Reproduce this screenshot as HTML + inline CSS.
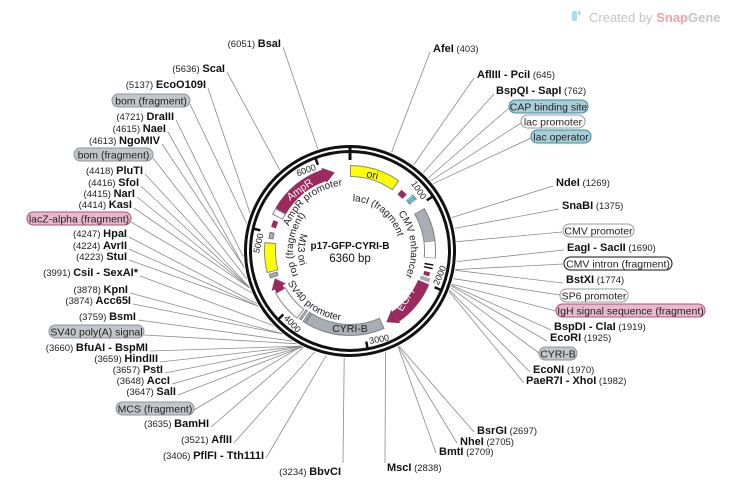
<!DOCTYPE html>
<html><head><meta charset="utf-8"><style>
html,body{margin:0;padding:0;background:#fff;}
svg{display:block;font-family:"Liberation Sans",sans-serif;}
.b{font-weight:bold;font-size:11px;fill:#111;}
.n{font-size:9.5px;fill:#222;}
.p{font-size:10.5px;fill:#222;}
.t{font-size:9px;fill:#222;}
.in{font-size:10px;fill:#222;}
.l{stroke:#8a8a8a;stroke-width:0.8;fill:none;}
</style></head><body>
<svg width="732" height="487" viewBox="0 0 732 487" xmlns="http://www.w3.org/2000/svg">
<rect width="732" height="487" fill="#fff"/>
<rect x="572" y="11" width="5" height="10" rx="1.5" fill="#9fe0ea"/>
<rect x="578" y="11" width="2.5" height="4" fill="#9fe0ea"/>
<text x="589" y="22" font-size="13" fill="#c4c4c4">Created by <tspan fill="#f3a1a6" font-weight="bold">Snap</tspan><tspan fill="#c4c4c4" font-weight="bold">Gene</tspan></text>

<g class="l">
<line x1="283" y1="47" x2="317.8" y2="148.9"/>
<line x1="227" y1="72" x2="279.8" y2="170.2"/>
<line x1="208" y1="88" x2="250" y2="213"/>
<line x1="190" y1="104" x2="246.6" y2="223.3"/>
<line x1="176" y1="120" x2="243.1" y2="256.4"/>
<line x1="168" y1="132" x2="244.3" y2="267.4"/>
<line x1="162" y1="144" x2="244.4" y2="267.6"/>
<line x1="153" y1="158" x2="246.6" y2="278.7"/>
<line x1="145" y1="174" x2="249.4" y2="287.4"/>
<line x1="141" y1="186" x2="249.5" y2="287.6"/>
<line x1="137" y1="197" x2="249.6" y2="287.8"/>
<line x1="134" y1="208" x2="249.6" y2="287.9"/>
<line x1="131" y1="222" x2="251.5" y2="292.8"/>
<line x1="129" y1="237" x2="257" y2="303.8"/>
<line x1="129" y1="249" x2="258.2" y2="306"/>
<line x1="129" y1="260" x2="258.3" y2="306.1"/>
<line x1="140" y1="276" x2="273.2" y2="325.5"/>
<line x1="130" y1="293" x2="282" y2="333.6"/>
<line x1="133" y1="304" x2="282.2" y2="333.8"/>
<line x1="138" y1="320" x2="292" y2="341"/>
<line x1="144" y1="335" x2="296.5" y2="343.7"/>
<line x1="150" y1="351" x2="301.1" y2="346.1"/>
<line x1="160" y1="362" x2="301.2" y2="346.2"/>
<line x1="165" y1="373" x2="301.4" y2="346.3"/>
<line x1="172" y1="384" x2="302.3" y2="346.8"/>
<line x1="178" y1="395" x2="302.4" y2="346.9"/>
<line x1="194" y1="410" x2="301.4" y2="346.3"/>
<line x1="211" y1="427" x2="303.4" y2="347.3"/>
<line x1="234" y1="443" x2="314.6" y2="352"/>
<line x1="266" y1="458" x2="326.3" y2="355.3"/>
<line x1="343" y1="463" x2="344.2" y2="357.8"/>
<line x1="430" y1="52" x2="391.5" y2="152.4"/>
<line x1="474" y1="78" x2="413.6" y2="165"/>
<line x1="494" y1="94" x2="423.1" y2="172.9"/>
<line x1="509" y1="108" x2="428.3" y2="178"/>
<line x1="521" y1="123" x2="430.8" y2="180.8"/>
<line x1="531" y1="138" x2="433.2" y2="183.7"/>
<line x1="553" y1="186" x2="451.6" y2="217.6"/>
<line x1="559" y1="209" x2="454.6" y2="228.4"/>
<line x1="562" y1="232" x2="456.6" y2="241.7"/>
<line x1="564" y1="250" x2="456.5" y2="261.6"/>
<line x1="563" y1="264" x2="455.4" y2="269.6"/>
<line x1="563" y1="283" x2="455.2" y2="270.3"/>
<line x1="560" y1="295" x2="453.4" y2="278.7"/>
<line x1="556" y1="311" x2="451.8" y2="284.1"/>
<line x1="551" y1="330" x2="451.4" y2="285.1"/>
<line x1="547" y1="341" x2="451.2" y2="285.8"/>
<line x1="539" y1="353" x2="450.5" y2="287.6"/>
<line x1="530" y1="372" x2="449.6" y2="290.2"/>
<line x1="524" y1="383" x2="449.1" y2="291.4"/>
<line x1="474" y1="432" x2="399.1" y2="346.1"/>
<line x1="457" y1="443" x2="398.4" y2="346.4"/>
<line x1="436" y1="453" x2="398.1" y2="346.6"/>
<line x1="385" y1="463" x2="385.5" y2="351.9"/>
</g>

<circle cx="350" cy="251" r="104.5" fill="none" stroke="#111" stroke-width="3"/>
<circle cx="350" cy="251" r="99.5" fill="none" stroke="#111" stroke-width="3"/>
<line x1="350" y1="145" x2="350" y2="160" stroke="#111" stroke-width="3"/>
<g stroke="#111" stroke-width="2.5">
<line x1="350" y1="152" x2="350" y2="159" transform="rotate(56.6 350 251)"/>
<line x1="350" y1="152" x2="350" y2="159" transform="rotate(113.2 350 251)"/>
<line x1="350" y1="152" x2="350" y2="159" transform="rotate(169.8 350 251)"/>
<line x1="350" y1="152" x2="350" y2="159" transform="rotate(226.4 350 251)"/>
<line x1="350" y1="152" x2="350" y2="159" transform="rotate(283 350 251)"/>
<line x1="350" y1="152" x2="350" y2="159" transform="rotate(339.6 350 251)"/>
</g>
<g class="t">
<text x="347" y="163" text-anchor="end" transform="rotate(56.6 350 251)">1000</text>
<text x="347" y="163" text-anchor="end" transform="rotate(283 350 251)">5000</text>
<text x="347" y="163" text-anchor="end" transform="rotate(339.6 350 251)">6000</text>
<text x="353" y="346" transform="rotate(-66.8 350 251)">2000</text>
<text x="353" y="346" transform="rotate(-10.2 350 251)">3000</text>
<text x="353" y="346" transform="rotate(46.4 350 251)">4000</text>
</g>

<g fill="none">
<circle cx="350" cy="251" r="80" stroke="#8a8a8a" stroke-width="12" stroke-dasharray="48.9 1000" transform="rotate(-90 350 251)"/>
<circle cx="350" cy="251" r="80" stroke="#ffff00" stroke-width="10" stroke-dasharray="46.9 1000" transform="rotate(-89.3 350 251)"/>
<circle cx="350" cy="251" r="80" stroke="#7d838a" stroke-width="12" stroke-dasharray="48.9 1000" transform="rotate(-30 350 251)"/>
<circle cx="350" cy="251" r="80" stroke="#a9aeb4" stroke-width="10" stroke-dasharray="31 1000" transform="rotate(-29.3 350 251)"/>
<circle cx="350" cy="251" r="80" stroke="#fff" stroke-width="10" stroke-dasharray="15.8 1000" transform="rotate(-6.7 350 251)"/>
<circle cx="350" cy="251" r="79" stroke="#7d838a" stroke-width="12" stroke-dasharray="77.2 1000" transform="rotate(66 350 251)"/>
<circle cx="350" cy="251" r="79" stroke="#a9aeb4" stroke-width="10" stroke-dasharray="75.2 1000" transform="rotate(66.7 350 251)"/>
<circle cx="350" cy="251" r="79" stroke="#7d838a" stroke-width="12" stroke-dasharray="2.8 1000" transform="rotate(122 350 251)"/>
<circle cx="350" cy="251" r="79" stroke="#a9aeb4" stroke-width="10" stroke-dasharray="1.4 1000" transform="rotate(122.5 350 251)"/>
<circle cx="350" cy="251" r="79" stroke="#7d838a" stroke-width="12" stroke-dasharray="2.8 1000" transform="rotate(125 350 251)"/>
<circle cx="350" cy="251" r="79" stroke="#a9aeb4" stroke-width="10" stroke-dasharray="1.4 1000" transform="rotate(125.5 350 251)"/>
<circle cx="350" cy="251" r="80" stroke="#8a8a8a" stroke-width="12" stroke-dasharray="32.1 1000" transform="rotate(128 350 251)"/>
<circle cx="350" cy="251" r="80" stroke="#fff" stroke-width="10" stroke-dasharray="30.1 1000" transform="rotate(128.7 350 251)"/>
<circle cx="350" cy="251" r="80" stroke="#7d838a" stroke-width="9" stroke-dasharray="4.5 1000" transform="rotate(161 350 251)"/>
<circle cx="350" cy="251" r="80" stroke="#a9aeb4" stroke-width="7" stroke-dasharray="2.5 1000" transform="rotate(161.7 350 251)"/>
<circle cx="350" cy="251" r="80" stroke="#8a8a8a" stroke-width="12" stroke-dasharray="29.3 1000" transform="rotate(165 350 251)"/>
<circle cx="350" cy="251" r="80" stroke="#ffff00" stroke-width="10" stroke-dasharray="27.3 1000" transform="rotate(165.7 350 251)"/>
<circle cx="350" cy="251" r="80" stroke="#6f757c" stroke-width="5" stroke-dasharray="7 1000" transform="rotate(188.5 350 251)"/>
<circle cx="350" cy="251" r="80" stroke="#a9aeb4" stroke-width="3" stroke-dasharray="5 1000" transform="rotate(189.2 350 251)"/>
<circle cx="350" cy="251" r="80" stroke="#9b2a5e" stroke-width="5" stroke-dasharray="7 1000" transform="rotate(197 350 251)"/>
<circle cx="350" cy="251" r="80" stroke="#8a8a8a" stroke-width="12" stroke-dasharray="7 1000" transform="rotate(205 350 251)"/>
<circle cx="350" cy="251" r="80" stroke="#fff" stroke-width="10" stroke-dasharray="5 1000" transform="rotate(205.7 350 251)"/>
<circle cx="350" cy="251" r="80" stroke="#9b2a5e" stroke-width="12" stroke-dasharray="57.5 1000" transform="rotate(210 350 251)"/>
<circle cx="350" cy="251" r="80" stroke="#9b2a5e" stroke-width="12" stroke-dasharray="44.7 1000" transform="rotate(23 350 251)"/>
<circle cx="350" cy="251" r="80" stroke="#9b2a5e" stroke-width="9" stroke-dasharray="4.5 1000" transform="rotate(150 350 251)"/>
<circle cx="350" cy="251" r="77" stroke="#9b2a5e" stroke-width="6" stroke-dasharray="7 1000" transform="rotate(-50 350 251)"/>
<circle cx="350" cy="251" r="80" stroke="#3a8aa0" stroke-width="9" stroke-dasharray="6 1000" transform="rotate(-42 350 251)"/>
<circle cx="350" cy="251" r="80" stroke="#b8dce6" stroke-width="7" stroke-dasharray="1 1 1 1 1 1000" transform="rotate(-41.5 350 251)"/>
<circle cx="350" cy="251" r="80" stroke="#111" stroke-width="9" stroke-dasharray="1.5 2 1.5 1000" transform="rotate(9 350 251)"/>
<circle cx="350" cy="251" r="80" stroke="#9b2a5e" stroke-width="6" stroke-dasharray="4 1000" transform="rotate(15 350 251)"/>
<circle cx="350" cy="251" r="80" stroke="#a9aeb4" stroke-width="10" stroke-dasharray="4 1000" transform="rotate(19 350 251)"/>
</g>
<g fill="#9b2a5e">
<polygon points="350,163 350,179 361.1,171.8" transform="rotate(341 350 251)"/>
<polygon points="350,163 350,179 361.1,171.8" transform="rotate(145 350 251)"/>
<polygon points="350,163 350,179 359.7,171.6" transform="rotate(243 350 251)"/>
</g>
<text x="0" y="0" font-size="10.5" fill="#fff" transform="translate(290 201) rotate(-36)">AmpR</text>
<text x="0" y="0" font-size="10.5" fill="#222" transform="translate(366 177) rotate(12)">ori</text>
<text x="0" y="0" font-size="10.5" fill="#fff" transform="translate(402 312) rotate(-58)">EGFP</text>
<text x="350" y="332" font-size="10.5" fill="#222" text-anchor="middle">CYRI-B</text>

<defs>
<path id="p1" d="M288.8,226.3 A66,66 0 0 1 352.3,185"/>
<path id="p2" d="M298.3,275.1 A57,57 0 0 1 321.5,201.6"/>
<path id="p3" d="M301.1,233.2 A52,52 0 0 0 305,277"/>
<path id="p4" d="M287.6,282.8 A70,70 0 0 0 346.3,320.9"/>
<path id="p5" d="M352.6,201.1 A50,50 0 0 1 398.3,238.1"/>
<path id="p6" d="M398.1,213.4 A61,61 0 0 1 401.7,283.3"/>
</defs>
<g class="in">
<text><textPath href="#p1">AmpR promoter</textPath></text>
<text><textPath href="#p2">rop (fragment)</textPath></text>
<text><textPath href="#p3">M13 ori</textPath></text>
<text><textPath href="#p4">SV40 promoter</textPath></text>
<text><textPath href="#p5">lacI (fragment)</textPath></text>
<text><textPath href="#p6">CMV enhancer</textPath></text>
</g>
<text x="350" y="249" text-anchor="middle" font-size="10" font-weight="bold" fill="#111">p17-GFP-CYRI-B</text>
<text x="350" y="262" text-anchor="middle" font-size="11.5" fill="#111">6360 bp</text>

<g text-anchor="end">
<text x="281" y="47"><tspan class="n">(6051) </tspan><tspan class="b">BsaI</tspan></text>
<text x="225" y="72"><tspan class="n">(5636) </tspan><tspan class="b">ScaI</tspan></text>
<text x="206" y="88"><tspan class="n">(5137) </tspan><tspan class="b">EcoO109I</tspan></text>
<text x="174" y="120"><tspan class="n">(4721) </tspan><tspan class="b">DraIII</tspan></text>
<text x="166" y="132"><tspan class="n">(4615) </tspan><tspan class="b">NaeI</tspan></text>
<text x="160" y="144"><tspan class="n">(4613) </tspan><tspan class="b">NgoMIV</tspan></text>
<text x="143" y="174"><tspan class="n">(4418) </tspan><tspan class="b">PluTI</tspan></text>
<text x="139" y="186"><tspan class="n">(4416) </tspan><tspan class="b">SfoI</tspan></text>
<text x="135" y="197"><tspan class="n">(4415) </tspan><tspan class="b">NarI</tspan></text>
<text x="132" y="208"><tspan class="n">(4414) </tspan><tspan class="b">KasI</tspan></text>
<text x="127" y="237"><tspan class="n">(4247) </tspan><tspan class="b">HpaI</tspan></text>
<text x="127" y="249"><tspan class="n">(4224) </tspan><tspan class="b">AvrII</tspan></text>
<text x="127" y="260"><tspan class="n">(4223) </tspan><tspan class="b">StuI</tspan></text>
<text x="138" y="276"><tspan class="n">(3991) </tspan><tspan class="b">CsiI - SexAI*</tspan></text>
<text x="128" y="293"><tspan class="n">(3878) </tspan><tspan class="b">KpnI</tspan></text>
<text x="131" y="304"><tspan class="n">(3874) </tspan><tspan class="b">Acc65I</tspan></text>
<text x="136" y="320"><tspan class="n">(3759) </tspan><tspan class="b">BsmI</tspan></text>
<text x="148" y="351"><tspan class="n">(3660) </tspan><tspan class="b">BfuAI - BspMI</tspan></text>
<text x="158" y="362"><tspan class="n">(3659) </tspan><tspan class="b">HindIII</tspan></text>
<text x="163" y="373"><tspan class="n">(3657) </tspan><tspan class="b">PstI</tspan></text>
<text x="170" y="384"><tspan class="n">(3648) </tspan><tspan class="b">AccI</tspan></text>
<text x="176" y="395"><tspan class="n">(3647) </tspan><tspan class="b">SalI</tspan></text>
<text x="209" y="427"><tspan class="n">(3635) </tspan><tspan class="b">BamHI</tspan></text>
<text x="232" y="443"><tspan class="n">(3521) </tspan><tspan class="b">AflII</tspan></text>
<text x="264" y="459"><tspan class="n">(3406) </tspan><tspan class="b">PflFI - Tth111I</tspan></text>
<text x="341" y="475"><tspan class="n">(3234) </tspan><tspan class="b">BbvCI</tspan></text>
</g>
<g>
<text x="433" y="52"><tspan class="b">AfeI</tspan><tspan class="n">  (403)</tspan></text>
<text x="477" y="78"><tspan class="b">AflIII - PciI</tspan><tspan class="n">  (645)</tspan></text>
<text x="496" y="94"><tspan class="b">BspQI - SapI</tspan><tspan class="n">  (762)</tspan></text>
<text x="556" y="186"><tspan class="b">NdeI</tspan><tspan class="n">  (1269)</tspan></text>
<text x="562" y="209"><tspan class="b">SnaBI</tspan><tspan class="n">  (1375)</tspan></text>
<text x="567" y="251"><tspan class="b">EagI - SacII</tspan><tspan class="n">  (1690)</tspan></text>
<text x="566" y="283"><tspan class="b">BstXI</tspan><tspan class="n">  (1774)</tspan></text>
<text x="554" y="330"><tspan class="b">BspDI - ClaI</tspan><tspan class="n">  (1919)</tspan></text>
<text x="550" y="341"><tspan class="b">EcoRI</tspan><tspan class="n">  (1925)</tspan></text>
<text x="533" y="373"><tspan class="b">EcoNI</tspan><tspan class="n">  (1970)</tspan></text>
<text x="526" y="384"><tspan class="b">PaeR7I - XhoI</tspan><tspan class="n">  (1982)</tspan></text>
<text x="477" y="434"><tspan class="b">BsrGI</tspan><tspan class="n">  (2697)</tspan></text>
<text x="460" y="445"><tspan class="b">NheI</tspan><tspan class="n">  (2705)</tspan></text>
<text x="439" y="455"><tspan class="b">BmtI</tspan><tspan class="n">  (2709)</tspan></text>
<text x="387" y="471"><tspan class="b">MscI</tspan><tspan class="n">  (2838)</tspan></text>
</g>
<g class="p">
<rect x="112" y="94" width="78" height="13" rx="6.5" fill="#c2c6cb" stroke="#8d949b"/><text x="151" y="104.5" text-anchor="middle">bom (fragment)</text>
<rect x="74" y="148" width="79" height="13" rx="6.5" fill="#c2c6cb" stroke="#8d949b"/><text x="113.5" y="158.5" text-anchor="middle">bom (fragment)</text>
<rect x="27" y="212" width="104" height="13" rx="6.5" fill="#e9b8ca" stroke="#b0507e"/><text x="79" y="222.5" text-anchor="middle">lacZ-alpha (fragment)</text>
<rect x="49" y="325" width="95" height="13" rx="6.5" fill="#c2c6cb" stroke="#8d949b"/><text x="96.5" y="335.5" text-anchor="middle">SV40 poly(A) signal</text>
<rect x="116" y="402" width="78" height="13" rx="6.5" fill="#c2c6cb" stroke="#8d949b"/><text x="155" y="412.5" text-anchor="middle">MCS (fragment)</text>
<rect x="509" y="100" width="79" height="13" rx="6.5" fill="#a8cfd9" stroke="#3a8aa0"/><text x="548.5" y="110.5" text-anchor="middle">CAP binding site</text>
<rect x="521" y="115" width="64" height="13" rx="6.5" fill="#fff" stroke="#999"/><text x="553" y="125.5" text-anchor="middle">lac promoter</text>
<rect x="531" y="130" width="60" height="13" rx="6.5" fill="#a8cfd9" stroke="#3a8aa0"/><text x="561" y="140.5" text-anchor="middle">lac operator</text>
<rect x="563" y="224" width="71" height="13" rx="6.5" fill="#fff" stroke="#999"/><text x="598.5" y="234.5" text-anchor="middle">CMV promoter</text>
<rect x="564" y="257" width="108" height="13" rx="6.5" fill="#fff" stroke="#111"/><text x="618" y="267.5" text-anchor="middle">CMV intron (fragment)</text>
<rect x="560" y="289" width="68" height="13" rx="6.5" fill="#fff" stroke="#999"/><text x="594" y="299.5" text-anchor="middle">SP6 promoter</text>
<rect x="556" y="304" width="149" height="13" rx="6.5" fill="#e9b8ca" stroke="#b0507e"/><text x="630.5" y="314.5" text-anchor="middle">IgH signal sequence (fragment)</text>
<rect x="539" y="347" width="38" height="13" rx="6.5" fill="#c2c6cb" stroke="#8d949b"/><text x="558" y="357.5" text-anchor="middle">CYRI-B</text>
</g>
</svg>
</body></html>
